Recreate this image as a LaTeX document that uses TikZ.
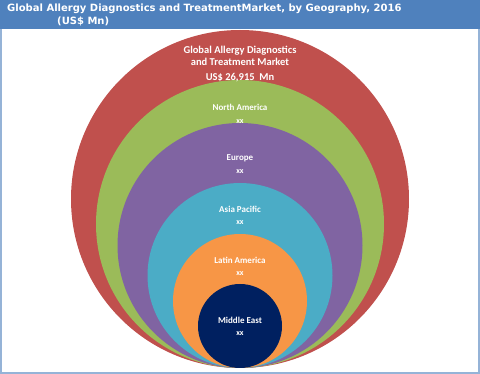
\documentclass[tikz,border=0pt]{standalone}
\usepackage{fontspec}
\setmainfont{Carlito}
\newfontfamily\headfont{DejaVu Sans}
\definecolor{hdr}{HTML}{4F81BD}
\definecolor{frm}{HTML}{95B3D7}
\definecolor{cred}{HTML}{C0504D}
\definecolor{cgreen}{HTML}{9BBB59}
\definecolor{cpurple}{HTML}{8064A2}
\definecolor{cblue}{HTML}{4BACC6}
\definecolor{corange}{HTML}{F79646}
\definecolor{cnavy}{HTML}{002060}
\tikzset{
  ring/.style={circle, inner sep=0pt, draw=none},
  lbl/.style={text=white, font=\fontsize{9}{11}\selectfont\bfseries, align=center, inner sep=0pt},
  toplbl/.style={text=white, font=\fontsize{10.5}{12}\selectfont\bfseries, align=center, inner sep=0pt},
  val/.style={text=white, font=\fontsize{8}{10}\selectfont\bfseries, inner sep=0pt},
  title/.style={text=white, font=\headfont\fontsize{10}{12.5}\selectfont\bfseries, align=left, inner sep=0pt, anchor=north west}
}
\begin{document}
\begin{tikzpicture}[x=1pt,y=-1pt]
\useasboundingbox (0,0) rectangle (480,374);
\fill[white] (0,0) rectangle (480,374);
\draw[frm, line width=1.6pt] (0.8,0.8) rectangle (479.2,373.2);
\fill[hdr] (0,0) rectangle (480,29);
\node[title] (t1) at (7,4) {Global Allergy Diagnostics and TreatmentMarket, by Geography, 2016};
\node[title] (t2) at (57,17) {(US\$ Mn)};
% circles tangent at bottom y=368
\node[ring, fill=cred, minimum size=338pt] (r1) at (240,199) {};
\node[ring, fill=cgreen, minimum size=288pt] (r2) at (240,224) {};
\node[ring, fill=cpurple, minimum size=245pt] (r3) at (240,245.5) {};
\node[ring, fill=cblue, minimum size=185pt] (r4) at (240,275.5) {};
\node[ring, fill=corange, minimum size=134pt] (r5) at (240,301) {};
\node[ring, fill=cnavy, minimum size=84pt] (r6) at (240,326) {};
% labels
\node[toplbl] (l1) at (240,56) {Global Allergy Diagnostics\\and Treatment Market};
\node[toplbl] (v1) at (240,78) {US\$ 26,915\ \ Mn};
\node[lbl] (l2) at (240,107) {North America};
\node[val] (v2) at (240,122) {xx};
\node[lbl] (l3) at (240,158) {Europe};
\node[val] (v3) at (240,172) {xx};
\node[lbl] (l4) at (240,209) {Asia Pacific};
\node[val] (v4) at (240,223) {xx};
\node[lbl] (l5) at (240,260) {Latin America};
\node[val] (v5) at (240,274) {xx};
\node[lbl] (l6) at (240,320) {Middle East};
\node[val] (v6) at (240,334) {xx};
\end{tikzpicture}
\end{document}
